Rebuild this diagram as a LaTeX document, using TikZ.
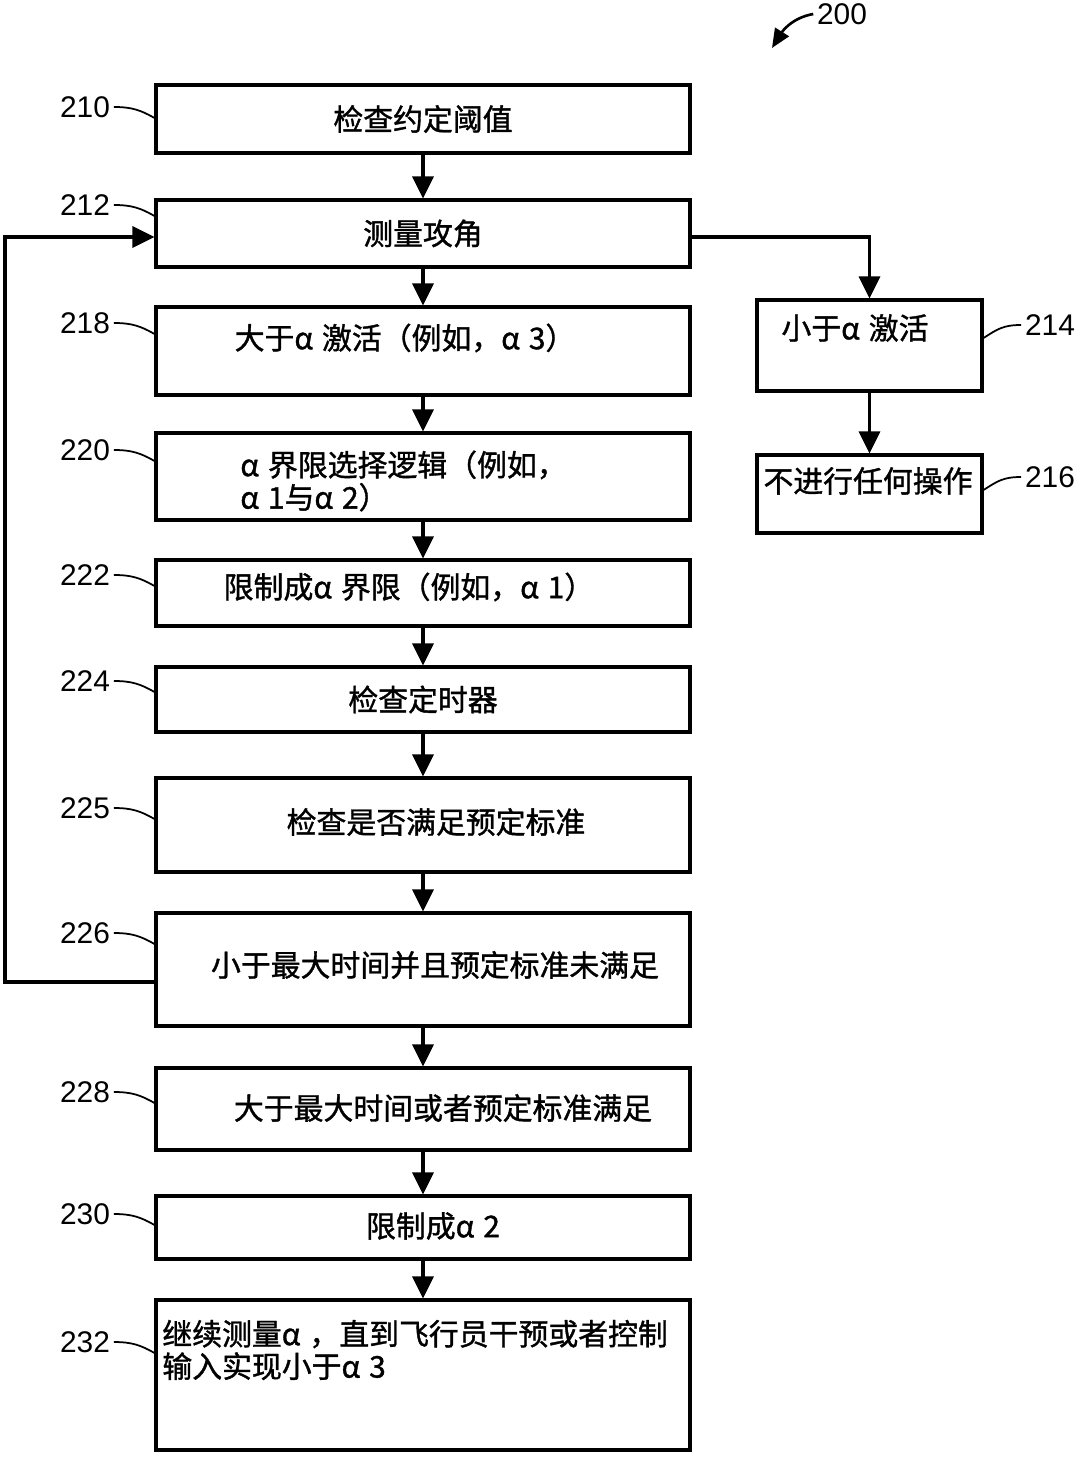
\documentclass[tikz,border=0pt]{standalone}
\usepackage{fontspec}
\setmainfont{Liberation Sans}
\newfontfamily\cjk[FakeBold=1.2]{Noto Sans CJK SC}
\newcommand{\alp}{α\hspace{0.3em}}
\usetikzlibrary{arrows.meta, calc}

\begin{document}
\begin{tikzpicture}[x=0.02cm, y=-0.02cm,
		box/.style={draw, line width=1.8pt, minimum width=10.68cm, inner sep=0pt, font=\cjk\fontsize{17pt}{18.5pt}\selectfont},
		sidebox/.style={box, minimum width=4.5cm},
		txt/.style={inner sep=0pt, align=left, font=\cjk\fontsize{17pt}{18.5pt}\selectfont},
		num/.style={inner sep=2pt, font=\fontsize{17pt}{20pt}\selectfont},
		flow/.style={line width=1.8pt, -{Triangle[length=0.44cm, width=0.42cm]}},
		lead/.style={line width=1pt}]
			\useasboundingbox (0,0) rectangle (1080,1459);
			
			% main column
			\node[box, minimum height=1.36cm] (chk) at (423,119) {检查约定阈值};
			\node[box, minimum height=1.34cm] (meas) at (423,233.5) {测量攻角};
			\node[box, minimum height=1.76cm] (above) at (423,351) {};
			\node[box, minimum height=1.74cm] (sel) at (423,476.5) {};
			\node[box, minimum height=1.32cm] (lim) at (423,593) {};
			\node[box, minimum height=1.30cm] (timer) at (423,699.5) {检查定时器};
			\node[box, minimum height=1.88cm] (crit) at (423,825) {};
			\node[box, minimum height=2.26cm] (under) at (423,969.5) {};
			\node[box, minimum height=1.64cm] (over) at (423,1109) {};
			\node[box, minimum height=1.26cm] (clamp) at (423,1227.5) {};
			\node[box, minimum height=3.00cm] (cont) at (423,1375) {};
			
			% side column
			\node[sidebox, minimum height=1.82cm] (less) at (869.5,345.5) {};
			\node[sidebox, minimum height=1.56cm] (none) at (869.5,494) {};
			
			% box texts
			\node[txt] (aboveT) at (405,338) {大于\alp 激活（例如，\alp 3）};
			\node[txt, anchor=west] (selT) at (240,481) {\alp 界限选择逻辑（例如，\\\alp 1与\alp 2）};
			\node[txt] (limT) at (409,587) {限制成\alp 界限（例如，\alp 1）};
			\node[txt] (critT) at (436,822) {检查是否满足预定标准};
			\node[txt] (underT) at (435,965) {小于最大时间并且预定标准未满足};
			\node[txt] (overT) at (443,1108) {大于最大时间或者预定标准满足};
			\node[txt] (clampT) at (433,1226) {限制成\alp 2};
			\node[txt, anchor=west] (contT) at (162,1350) {继续测量\alp ，直到飞行员干预或者控制\\输入实现小于\alp 3};
			\node[txt] (lessT) at (855,328) {小于\alp 激活};
			\node[txt] (noneT) at (868,481) {不进行任何操作};
			
			% flow
			\draw[flow] (chk) -- (meas);
			\draw[flow] (meas) -- (above);
			\draw[flow] (above) -- (sel);
			\draw[flow] (sel) -- (lim);
			\draw[flow] (lim) -- (timer);
			\draw[flow] (timer) -- (crit);
			\draw[flow] (crit) -- (under);
			\draw[flow] (under) -- (over);
			\draw[flow] (over) -- (clamp);
			\draw[flow] (clamp) -- (cont);
			\draw[flow] ([yshift=-0.07cm]meas.east) -| (less.north);
			\draw[flow] (less) -- (none);
			
			% loop back
			\coordinate (back) at (5,237);
			\draw[flow] ([yshift=-0.25cm]under.west) -| (back) -- (meas.west |- back);
			
			% reference numerals
			\foreach \n/\b/\y in {210/chk/107, 212/meas/205, 218/above/323, 220/sel/450, 222/lim/575, 224/timer/681, 225/crit/808, 226/under/933, 228/over/1092, 230/clamp/1214, 232/cont/1342}{
				\node[num] (n\n) at (85,\y) {\n};
				\draw[lead] (n\n.east) .. controls +(18,0) and +(-14,-8) .. (\b.west |- 0,\y+11);
			}
			\node[num] (n214) at (1050,325) {214};
			\draw[lead] (less.east |- 0,338) .. controls +(14,-9) and +(-18,0) .. (n214.west);
			\node[num] (n216) at (1050,477) {216};
			\draw[lead] (none.east |- 0,490) .. controls +(14,-9) and +(-18,0) .. (n216.west);
			
			\node[num] (n200) at (842,14) {200};
			\coordinate (fig) at (772,48);
			\draw[line width=1.5pt, -{Triangle[length=0.38cm, width=0.32cm]}] (n200.west) .. controls +(-22,4) and +(10,-16) .. (fig);
			
		\end{tikzpicture}
\end{document}
